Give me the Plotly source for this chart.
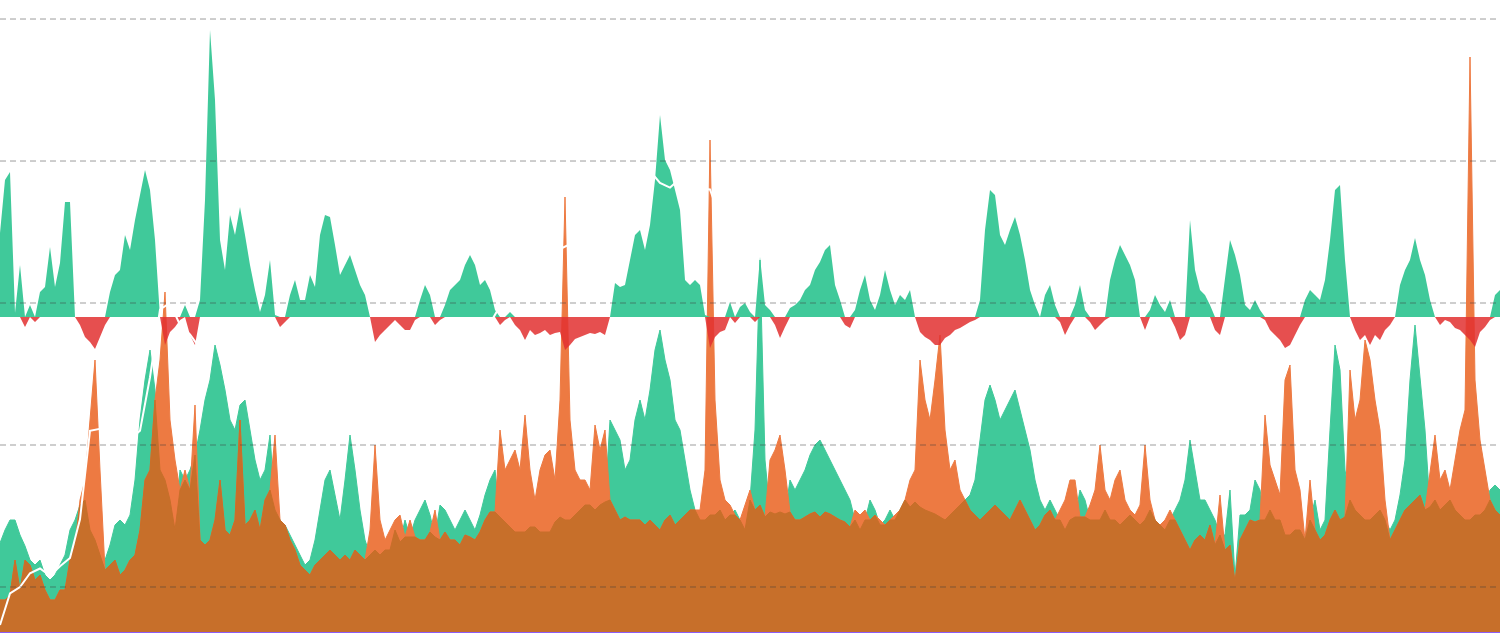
import numpy as np
import pandas as pd
import plotly.graph_objects as go

# ---- time grid (one sample every 16 days) ----
dates = pd.date_range("2012-06-15", periods=301, freq="16D")

# ---- lower panel: buy volume (green) ----
buy_volume = [
    89, 102, 112, 112, 97, 86, 72, 67, 72, 57, 52, 57, 67, 77, 102, 112, 127, 132, 102, 92,
    77, 72, 87, 107, 112, 107, 117, 152, 212, 252, 282, 242, 162, 152, 132, 102, 162, 152, 162, 177,
    202, 232, 252, 287, 267, 242, 212, 202, 227, 232, 202, 172, 152, 162, 197, 122, 112, 107, 97, 87,
    77, 67, 72, 92, 122, 152, 162, 137, 112, 152, 197, 162, 122, 92, 77, 82, 77, 82, 82, 102,
    90, 112, 95, 112, 122, 132, 117, 95, 127, 122, 112, 102, 112, 122, 112, 102, 117, 137, 152, 162,
    115, 110, 105, 100, 100, 100, 105, 105, 100, 100, 100, 110, 115, 112, 112, 117, 122, 127, 127, 122,
    127, 130, 212, 202, 192, 162, 172, 212, 232, 212, 242, 282, 302, 272, 252, 212, 202, 172, 142, 122,
    112, 112, 117, 117, 122, 112, 117, 122, 112, 102, 132, 202, 372, 172, 120, 118, 120, 118, 152, 142,
    152, 162, 177, 187, 192, 182, 172, 162, 152, 142, 132, 112, 102, 112, 132, 122, 107, 112, 122, 112,
    122, 132, 125, 130, 125, 122, 120, 118, 115, 112, 117, 122, 127, 132, 137, 152, 192, 232, 247, 232,
    212, 222, 232, 242, 222, 202, 182, 152, 132, 122, 132, 122, 112, 102, 112, 115, 142, 132, 112, 112,
    112, 122, 112, 112, 107, 112, 117, 112, 107, 112, 122, 112, 107, 102, 112, 122, 132, 152, 192, 162,
    132, 132, 122, 112, 97, 97, 142, 55, 117, 117, 122, 152, 142, 112, 122, 112, 112, 97, 97, 102,
    102, 97, 112, 132, 102, 112, 202, 287, 262, 162, 132, 122, 117, 112, 112, 117, 122, 112, 102, 112,
    137, 172, 252, 307, 252, 202, 125, 132, 122, 127, 132, 122, 117, 112, 112, 117, 117, 122, 142, 147,
    142,
]

# ---- lower panel: sell volume (orange) ----
sell_volume = [
    32, 32, 37, 72, 42, 72, 67, 52, 57, 42, 32, 32, 42, 42, 72, 87, 132, 152, 212, 272,
    162, 62, 67, 72, 57, 62, 72, 77, 102, 152, 162, 232, 272, 340, 212, 172, 142, 162, 142, 227,
    92, 87, 92, 112, 152, 102, 97, 112, 212, 107, 112, 122, 102, 132, 142, 197, 112, 107, 92, 82,
    67, 62, 57, 67, 72, 77, 82, 77, 72, 77, 72, 82, 77, 72, 102, 187, 112, 92, 102, 112,
    117, 95, 112, 95, 92, 92, 100, 122, 92, 100, 92, 92, 87, 97, 95, 92, 100, 112, 120, 120,
    202, 162, 172, 182, 162, 217, 162, 132, 162, 177, 182, 152, 232, 435, 212, 162, 152, 152, 142, 207,
    182, 202, 132, 122, 112, 115, 112, 112, 112, 107, 112, 107, 102, 112, 117, 107, 112, 117, 122, 122,
    122, 162, 492, 232, 152, 132, 127, 117, 112, 127, 142, 122, 127, 115, 172, 182, 197, 162, 120, 112,
    112, 115, 118, 120, 115, 120, 118, 115, 112, 110, 105, 122, 117, 122, 112, 117, 112, 107, 112, 117,
    122, 132, 152, 162, 272, 232, 212, 252, 297, 202, 162, 172, 142, 132, 122, 117, 112, 117, 122, 127,
    122, 117, 112, 122, 132, 122, 112, 102, 107, 117, 122, 112, 122, 132, 152, 152, 115, 115, 127, 142,
    187, 142, 132, 152, 162, 132, 122, 117, 127, 187, 132, 112, 107, 112, 122, 112, 102, 92, 82, 92,
    97, 92, 107, 87, 137, 82, 87, 50, 92, 102, 112, 110, 112, 217, 167, 152, 137, 252, 267, 162,
    142, 92, 152, 102, 92, 97, 112, 122, 112, 115, 262, 212, 232, 292, 272, 232, 202, 132, 92, 102,
    112, 122, 127, 132, 137, 122, 162, 197, 152, 162, 142, 172, 202, 222, 575, 252, 192, 162, 132, 122,
    117,
]

# ---- upper panel: net flow oscillator ----
net_flow = [
    84, 137, 145, 4, 52, -10, 12, -5, 25, 30, 70, 30, 54, 115, 115, 0, -8, -20, -25, -32,
    -20, -8, 25, 42, 47, 82, 67, 97, 122, 147, 127, 77, 0, -28, -15, -10, -3, 12, -18, -28,
    17, 117, 287, 217, 77, 47, 102, 82, 110, 82, 52, 27, 5, 22, 57, 2, -10, -5, 22, 37,
    17, 17, 42, 30, 82, 102, 100, 72, 42, 52, 62, 47, 32, 22, 0, -25, -18, -13, -8, -3,
    -8, -13, -13, -3, 17, 32, 22, -8, -3, 12, 27, 32, 37, 52, 62, 52, 32, 37, 27, 7,
    -8, -3, 5, -8, -13, -23, -13, -18, -16, -13, -18, -16, -15, -33, -28, -22, -20, -18, -16, -17,
    -15, -18, 0, 34, 30, 32, 57, 82, 87, 67, 92, 137, 202, 157, 147, 127, 107, 37, 32, 37,
    32, 2, -31, -20, -15, -13, 15, -6, 10, 14, 5, -5, 60, 12, 7, -8, -21, -10, 9, 12,
    17, 27, 32, 47, 55, 67, 72, 32, 17, -8, -11, 7, 27, 42, 17, 7, 22, 47, 27, 12,
    22, 17, 27, 0, -15, -20, -23, -28, -28, -21, -18, -13, -11, -8, -5, -3, 17, 87, 127, 122,
    82, 72, 87, 100, 82, 57, 27, 12, 0, 22, 32, 12, -5, -18, -8, 12, 32, 7, -5, -13,
    -8, -3, 37, 57, 72, 62, 52, 37, 0, -13, 7, 22, 12, 5, 17, -10, -23, -18, 97, 47,
    27, 22, 12, -13, -18, 37, 77, 62, 42, 12, 7, 17, 7, -3, -13, -18, -23, -31, -28, -18,
    -8, 17, 27, 22, 17, 37, 77, 127, 132, 57, 0, -13, -23, -18, -28, -18, -23, -13, -8, 0,
    32, 47, 57, 79, 57, 42, 17, 0, -8, -3, -5, -11, -13, -18, -23, -30, -15, -10, -3, 22,
    27,
]

# ---- price (USD, log scale), one value every second sample ----
price_usd = [
    5.4, 9, 10, 12.5, 13.5, 12, 14, 16, 30, 126, 130, 100, 85, 110, 126, 300, 900, 1000, 700, 600,
    480, 500, 560, 600, 600, 560, 480, 420, 380, 350, 320, 260, 240, 230, 240, 250, 270, 260, 240, 300,
    380, 430, 420, 400, 430, 600, 650, 600, 650, 720, 950, 1000, 1050, 1150, 1250, 1800, 2400, 2600, 3200, 4200,
    6000, 9000, 16000, 13000, 10000, 8500, 7000, 6500, 7500, 6500, 6400, 6300, 4000, 3600, 3800, 4000, 5500, 8000, 11000, 10500,
    9500, 8000, 7500, 7200, 8500, 9500, 6000, 7000, 8800, 9500, 11000, 11500, 13000, 16000, 19000, 29000, 40000, 50000, 58000, 55000,
    37000, 34000, 32000, 42000, 47000, 50000, 62000, 60000, 50000, 42000, 40000, 43000, 38000, 30000, 21000, 21000, 23000, 20000, 19500, 17000,
    16800, 21000, 23000, 28000, 29000, 27000, 30000, 29500, 26500, 27000, 35000, 42000, 43000, 52000, 68000, 64000, 62000, 58000, 63000, 90000,
    98000, 102000, 95000, 84000, 94000, 105000, 108000, 117000, 115000, 112000, 110000,
]
price_dates = dates[::2]
price_ticks = [10, 100, 1000, 10000, 100000]

GREEN = "#40C99A"
ORANGE = "#ED7A42"
DARK = "#C76F2A"
RED = "rgba(226,48,48,0.85)"

buy = np.array(buy_volume, dtype=float)
sell = np.array(sell_volume, dtype=float)
overlap = np.minimum(buy, sell)
flow = np.array(net_flow, dtype=float)

fig = go.Figure()
fig.add_trace(go.Scatter(x=dates, y=buy, mode="lines", fill="tozeroy",
                         line=dict(color=GREEN, width=1), fillcolor=GREEN,
                         hoverinfo="skip", showlegend=False))
fig.add_trace(go.Scatter(x=dates, y=sell, mode="lines", fill="tozeroy",
                         line=dict(color=ORANGE, width=1), fillcolor=ORANGE,
                         hoverinfo="skip", showlegend=False))
fig.add_trace(go.Scatter(x=dates, y=overlap, mode="lines", fill="tozeroy",
                         line=dict(color=DARK, width=1), fillcolor=DARK,
                         hoverinfo="skip", showlegend=False))
fig.add_trace(go.Scatter(x=dates, y=np.maximum(flow, 0), mode="lines", fill="tozeroy",
                         line=dict(color=GREEN, width=0), fillcolor=GREEN, yaxis="y2",
                         hoverinfo="skip", showlegend=False))
fig.add_trace(go.Scatter(x=dates, y=np.minimum(flow, 0), mode="lines", fill="tozeroy",
                         line=dict(color=RED, width=0), fillcolor=RED, yaxis="y2",
                         hoverinfo="skip", showlegend=False))
fig.add_trace(go.Scatter(x=price_dates, y=price_usd, mode="lines",
                         line=dict(color="white", width=2), yaxis="y3",
                         hoverinfo="skip", showlegend=False))

# dashed price grid drawn above the areas (as in the original)
for t in price_ticks:
    fig.add_shape(type="line", xref="paper", x0=0, x1=1, yref="y3",
                  y0=t, y1=t, layer="above",
                  line=dict(color="rgba(60,60,60,0.5)", width=1, dash="6px,4px"))

hidden = dict(showticklabels=False, showgrid=False, zeroline=False, ticks="")
fig.update_layout(
    width=1500, height=633, autosize=False,
    margin=dict(l=0, r=0, t=0, b=1),
    paper_bgcolor="white", plot_bgcolor="white",
    showlegend=False,
    xaxis=dict(range=[dates[0], dates[-1]], showline=True, linecolor="#8C5CF5",
               linewidth=2, **hidden),
    yaxis=dict(range=[0, 632], **hidden),
    yaxis2=dict(range=[-315, 317], overlaying="y", **hidden),
    yaxis3=dict(type="log", range=[0.683, 5.134], overlaying="y", **hidden),
)

fig.write_html(
    "out.html",
    config={"displayModeBar": False},
    post_script="document.body.style.margin='0';document.body.style.overflow='hidden';",
)
